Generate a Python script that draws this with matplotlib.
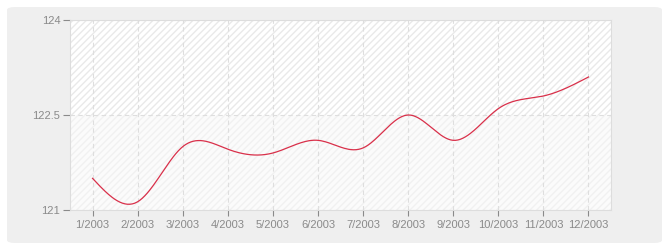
import numpy as np
import matplotlib
matplotlib.use("Agg")
import matplotlib.pyplot as plt
from matplotlib.patches import FancyBboxPatch

# monthly values
months = [1, 2, 3, 4, 5, 6, 7, 8, 9, 10, 11, 12]
labels = ["1/2003", "2/2003", "3/2003", "4/2003", "5/2003", "6/2003",
          "7/2003", "8/2003", "9/2003", "10/2003", "11/2003", "12/2003"]
values = [121.5, 121.13, 122.0, 121.96, 121.9, 122.1,
          121.98, 122.5, 122.1, 122.6, 122.8, 123.1]
yticks = [121, 122.5, 124]
ytick_labels = ["121", "122.5", "124"]

plt.rcParams['font.family'] = ['Liberation Sans', 'DejaVu Sans']


def natural_spline(x, y, xs):
    # natural cubic spline, solved with a small linear system
    x = np.asarray(x, float)
    y = np.asarray(y, float)
    n = len(x)
    h = np.diff(x)
    A = np.zeros((n, n))
    b = np.zeros(n)
    A[0, 0] = A[-1, -1] = 1
    for i in range(1, n - 1):
        A[i, i - 1] = h[i - 1]
        A[i, i] = 2 * (h[i - 1] + h[i])
        A[i, i + 1] = h[i]
        b[i] = 3 * ((y[i + 1] - y[i]) / h[i] - (y[i] - y[i - 1]) / h[i - 1])
    c = np.linalg.solve(A, b)
    out = np.empty_like(xs)
    for k, xv in enumerate(xs):
        i = min(np.searchsorted(x, xv, side="right") - 1, n - 2)
        dx = xv - x[i]
        bi = (y[i + 1] - y[i]) / h[i] - h[i] * (2 * c[i] + c[i + 1]) / 3
        di = (c[i + 1] - c[i]) / (3 * h[i])
        out[k] = y[i] + bi * dx + c[i] * dx ** 2 + di * dx ** 3
    return out


fig = plt.figure(figsize=(6.7, 2.5), dpi=100)
fig.patch.set_facecolor("white")
frame = FancyBboxPatch((7 / 670, 7 / 250), 655 / 670, 236 / 250,
                       boxstyle="round,pad=0,rounding_size=0.012",
                       transform=fig.transFigure, facecolor="#efefef",
                       edgecolor="none", zorder=-10)
fig.patches.append(frame)

ax = fig.add_axes([70 / 670, 40 / 250, 541 / 670, 190 / 250])
ax.set_facecolor("white")

# hatched bands
ax.axhspan(122.5, 124, facecolor="white", edgecolor="#e9e9e9",
           hatch="/////", linewidth=0, zorder=0)
ax.axhspan(121, 122.5, facecolor="#fbfbfb", edgecolor="#f1f1f1",
           hatch="/////", linewidth=0, zorder=0)

xs = np.linspace(months[0], months[-1], 400)
ax.plot(xs, natural_spline(months, values, xs), color="#d9304a",
        linewidth=0.9, zorder=3)

ax.set_xlim(0.5, 12.5)
ax.set_ylim(121, 124)
ax.set_xticks(months)
ax.set_xticklabels(labels)
ax.set_yticks(yticks)
ax.set_yticklabels(ytick_labels)

ax.grid(True, color="#dedede", linestyle=(0, (4, 3)), linewidth=0.8)
ax.set_axisbelow(True)
for s in ax.spines.values():
    s.set_color("#dddddd")
    s.set_linewidth(0.8)

ax.tick_params(axis="both", colors="#8a8a8a", labelsize=8,
               length=5, width=0.8, pad=2)
ax.tick_params(axis="x", length=4, pad=3)
for t in ax.get_xticklabels() + ax.get_yticklabels():
    t.set_color("#8a8a8a")

fig.savefig("out.png", dpi=100, facecolor="white")
